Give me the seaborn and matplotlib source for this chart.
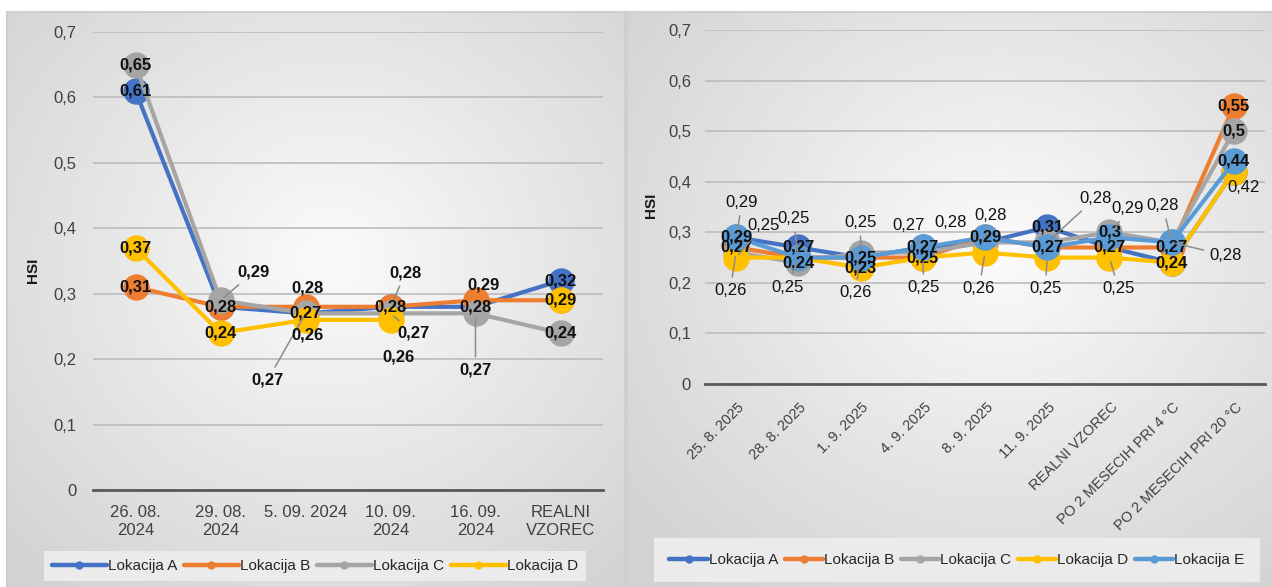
import numpy as np
import pandas as pd
import matplotlib
matplotlib.use("Agg")
import matplotlib.pyplot as plt
import matplotlib.transforms as mtransforms
from matplotlib.colors import LinearSegmentedColormap
from matplotlib.lines import Line2D
from matplotlib.patches import Rectangle
import seaborn as sns

# ---------------- data ----------------
series_names = ["Lokacija A", "Lokacija B", "Lokacija C", "Lokacija D", "Lokacija E"]

left_categories = ["26. 08.\n2024", "29. 08.\n2024", "5. 09. 2024",
                   "10. 09.\n2024", "16. 09.\n2024", "REALNI\nVZOREC"]
left_A = [0.61, 0.28, 0.27, 0.28, 0.28, 0.32]
left_B = [0.31, 0.28, 0.28, 0.28, 0.29, 0.29]
left_C = [0.65, 0.29, 0.27, 0.27, 0.27, 0.24]
left_D = [0.37, 0.24, 0.26, 0.26, np.nan, 0.29]

right_categories = ["25. 8. 2025", "28. 8. 2025", "1. 9. 2025", "4. 9. 2025",
                    "8. 9. 2025", "11. 9. 2025", "REALNI VZOREC",
                    "PO 2 MESECIH PRI 4 °C", "PO 2 MESECIH PRI 20 °C"]
right_A = [0.29, 0.27, 0.25, 0.27, 0.28, 0.31, 0.27, 0.24, 0.42]
right_B = [0.27, 0.25, 0.25, 0.25, 0.29, 0.27, 0.27, 0.27, 0.55]
right_C = [0.26, 0.24, 0.26, 0.26, 0.28, 0.28, 0.30, 0.28, 0.50]
right_D = [0.25, 0.25, 0.23, 0.25, 0.26, 0.25, 0.25, 0.24, 0.42]
right_E = [0.29, 0.25, 0.25, 0.27, 0.29, 0.27, 0.29, 0.28, 0.44]

y_ticks = [0, 0.1, 0.2, 0.3, 0.4, 0.5, 0.6, 0.7]
y_tick_labels = ["0", "0,1", "0,2", "0,3", "0,4", "0,5", "0,6", "0,7"]

# ---------------- style ----------------
colors = ["#4472C4", "#ED7D31", "#A5A5A5", "#FFC000", "#5B9BD5"]
W, H = 1272, 587

# label placement (pixel offsets dx, dy(down), leader line); None = hidden label
left_label_pos = {
    ("Lokacija B", 1): None,
    ("Lokacija C", 1): (33, -28, True),
    ("Lokacija B", 2): (2, -19, False),
    ("Lokacija C", 2): (-38, 67, True),
    ("Lokacija D", 2): (2, 15, False),
    ("Lokacija A", 3): (15, -34, True),
    ("Lokacija C", 3): (23, 20, True),
    ("Lokacija D", 3): (8, 37, False),
    ("Lokacija B", 4): (8, -15, False),
    ("Lokacija C", 4): (0, 57, True),
    ("Lokacija B", 5): None,
}
right_label_pos = {
    ("Lokacija A", 0): (6, -35, True), ("Lokacija C", 0): (-6, 38, True),
    ("Lokacija D", 0): (27, -32, True),
    ("Lokacija B", 1): None, ("Lokacija D", 1): (-11, 30, True),
    ("Lokacija E", 1): (-5, -39, True),
    ("Lokacija A", 2): (0, -35, True), ("Lokacija B", 2): None,
    ("Lokacija C", 2): (-5, 40, True),
    ("Lokacija A", 3): (-14, -22, True), ("Lokacija C", 3): None,
    ("Lokacija D", 3): (1, 30, True),
    ("Lokacija A", 4): (-34, -20, True), ("Lokacija B", 4): None,
    ("Lokacija C", 4): (6, -27, True), ("Lokacija D", 4): (-6, 36, True),
    ("Lokacija C", 5): (48, -44, True), ("Lokacija D", 5): (-2, 31, True),
    ("Lokacija E", 5): None,
    ("Lokacija A", 6): None, ("Lokacija D", 6): (9, 31, True),
    ("Lokacija E", 6): (18, -29, True),
    ("Lokacija A", 7): None, ("Lokacija C", 7): (-9, -37, True),
    ("Lokacija E", 7): (54, 13, True),
    ("Lokacija A", 8): (10, 16, False), ("Lokacija D", 8): None,
}

sns.set_style("white")
plt.rcParams["font.family"] = ["Liberation Sans", "DejaVu Sans"]

fig = plt.figure(figsize=(W / 100, H / 100), dpi=100)
fig.patch.set_facecolor("white")


def px_rect(x0, y0, x1, y1):
    return [x0 / W, 1 - y1 / H, (x1 - x0) / W, (y1 - y0) / H]


def panel_background(x0, y0, x1, y1, cx, cy):
    bg = fig.add_axes(px_rect(x0, y0, x1, y1))
    nx, ny = 300, 200
    xs = np.linspace(x0, x1, nx)
    ys = np.linspace(y0, y1, ny)
    X, Y = np.meshgrid(xs, ys)
    dx = (X - cx) / (x1 - x0)
    dy = (Y - cy) / (y1 - y0)
    r = np.sqrt(dx ** 2 + dy ** 2) / 0.75
    r = np.clip(r, 0, 1)
    cmap = LinearSegmentedColormap.from_list("g", ["#fbfbfb", "#e6e6e6", "#d2d2d2"])
    bg.imshow(r, cmap=cmap, vmin=0, vmax=1, aspect="auto",
              extent=[0, 1, 1, 0], interpolation="bilinear")
    bg.set_xlim(0, 1)
    bg.set_ylim(1, 0)
    bg.axis("off")
    bg.add_patch(Rectangle((0, 0), 1, 1, transform=bg.transAxes, fill=False,
                           edgecolor="#cfcfcf", lw=1.5, clip_on=False))


panel_background(7, 12, 625, 590, 330, 260)
panel_background(627, 12, 1274, 590, 1000, 250)


def fmt(v):
    s = f"{v:.2f}".rstrip("0").rstrip(".")
    return s.replace(".", ",")


def draw_chart(rect, categories, values, names, label_pos, center_bold, callout_bold,
               msize, legend_center, legend_kw, legend_size, rotate, ypad):
    ax = fig.add_axes(rect)
    ax.patch.set_alpha(0)
    rows = []
    for name, vals in zip(names, values):
        seg = 0
        for i, v in enumerate(vals):
            if np.isnan(v):
                seg += 1
                continue
            rows.append({"pos": i, "HSI": v, "series": name, "seg": f"{name}-{seg}"})
    df = pd.DataFrame(rows)
    sns.lineplot(data=df, x="pos", y="HSI", hue="series", hue_order=names,
                 palette=colors[:len(names)], units="seg", estimator=None,
                 sort=False, marker="o", markersize=msize, markeredgewidth=0,
                 linewidth=3, legend=False, ax=ax, zorder=3)
    n = len(categories)
    ax.set_xlim(-0.5, n - 0.5)
    ax.set_ylim(0, 0.7)
    ax.set_yticks(y_ticks)
    ax.set_yticklabels(y_tick_labels)
    ax.yaxis.grid(True, color="#bcbcbc", lw=1.2, zorder=0)
    ax.xaxis.grid(False)
    ax.set_axisbelow(True)
    for s in ["top", "right", "left"]:
        ax.spines[s].set_visible(False)
    ax.spines["bottom"].set_color("#595959")
    ax.spines["bottom"].set_linewidth(2)
    ax.spines["bottom"].set_zorder(2)
    ax.set_xticks(range(n))
    ax.set_xticks(np.arange(-0.5, n, 1.0), minor=True)
    ax.tick_params(axis="x", which="minor", length=6, width=1.6, color="#595959",
                   direction="out")
    ax.tick_params(axis="y", length=0, pad=ypad, labelsize=12, labelcolor="#404040")
    ax.set_xlabel("")
    ax.set_ylabel("HSI", fontsize=11, fontweight="bold", color="#1a1a1a")
    if rotate:
        ax.tick_params(axis="x", which="major", length=0, pad=0,
                       labelcolor="#404040")
        ax.set_xticklabels(categories, rotation=45, ha="right", va="center",
                           rotation_mode="anchor", fontsize=10.5)
        off = mtransforms.ScaledTranslation(0.06, -0.21, fig.dpi_scale_trans)
        for lab in ax.get_xticklabels():
            lab.set_transform(lab.get_transform() + off)
    else:
        ax.tick_params(axis="x", which="major", length=0, pad=11, labelsize=12,
                       labelcolor="#404040")
        ax.set_xticklabels(categories, linespacing=1.2)

    for name, vals in zip(names, values):
        for i, v in enumerate(vals):
            if np.isnan(v):
                continue
            key = (name, i)
            if key in label_pos and label_pos[key] is None:
                continue
            dx, dy, leader = label_pos.get(key, (0, 0, False))
            is_center = key not in label_pos
            weight = center_bold if is_center else callout_bold
            kw = dict(xy=(i, v), xytext=(dx * 0.72, -dy * 0.72),
                      textcoords="offset points", ha="center", va="center",
                      fontsize=12, fontweight=weight, color="#111111",
                      zorder=10, annotation_clip=False)
            if leader:
                kw["arrowprops"] = dict(arrowstyle="-", color="#8c8c8c", lw=1.1,
                                        shrinkA=2, shrinkB=3)
            ax.annotate(fmt(v), **kw)

    handles = [Line2D([0], [0], color=c, lw=3.2, marker="o", markersize=6,
                      markeredgewidth=0) for c in colors[:len(names)]]
    leg = ax.legend(handles, names, loc="center",
                    bbox_to_anchor=(legend_center[0] / W, 1 - legend_center[1] / H),
                    bbox_transform=fig.transFigure, ncol=len(names), frameon=True,
                    fancybox=False, facecolor="#ebebeb", edgecolor="none",
                    framealpha=1, prop={"size": legend_size}, **legend_kw)
    for t in leg.get_texts():
        t.set_color("#262626")
    return ax


axL = draw_chart(px_rect(93, 32, 603, 490), left_categories,
                 [left_A, left_B, left_C, left_D], series_names[:4],
                 left_label_pos, "bold", "bold", 19, (315, 566),
                 dict(handlelength=3.6, handletextpad=0.1, columnspacing=0.4,
                      borderpad=0.5), 11, rotate=False, ypad=12)
axL.yaxis.set_label_coords(-0.104, 0.48)

axR = draw_chart(px_rect(705, 30, 1265, 384), right_categories,
                 [right_A, right_B, right_C, right_D, right_E], series_names,
                 right_label_pos, "bold", "normal", 19, (957, 560),
                 dict(handlelength=2.5, handletextpad=0.1, columnspacing=0.4,
                      borderpad=1.0), 11, rotate=True, ypad=10)
axR.yaxis.set_label_coords(-0.084, 0.506)

fig.savefig("out.png", dpi=100, facecolor="white")
